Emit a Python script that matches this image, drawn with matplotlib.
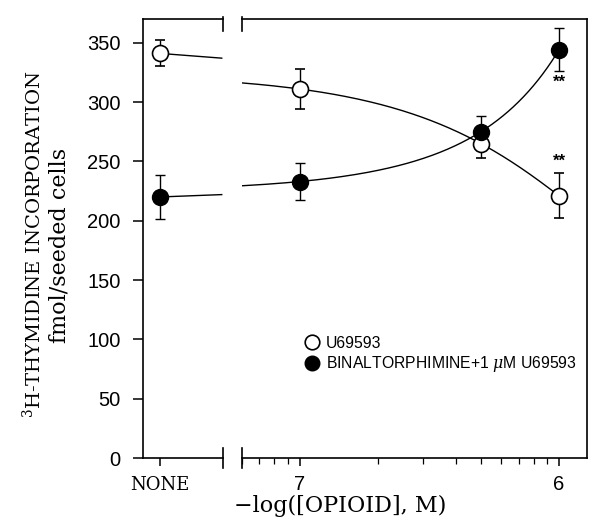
import numpy as np
import matplotlib
matplotlib.use('Agg')
import matplotlib.pyplot as plt
from matplotlib.lines import Line2D
from matplotlib.ticker import FixedLocator, NullFormatter

plt.rcParams['mathtext.fontset'] = 'dejavuserif'

# concentrations (M) for the dose axis, and the "NONE" control
conc = np.array([1e-7, 5e-7, 1e-6])
u69593 = [311, 265, 221]
u69593_err = [16.5, 12, 19]
bnx = [233, 275, 344]
bnx_err = [15.5, 13, 18]

none_u69593, none_u69593_err = 341, 11
none_bnx, none_bnx_err = 220, 18.5
# end of the short fitted segment drawn from the control point
none_u69593_end, none_bnx_end = 337, 222

xmin_conc = 6e-8
minor_conc = [6e-8, 7e-8, 8e-8, 9e-8, 2e-7, 3e-7, 4e-7, 5e-7, 6e-7, 7e-7, 8e-7, 9e-7]

serif = 'DejaVu Serif'
sans = 'Liberation Sans'

W, H = 600, 532
fig = plt.figure(figsize=(W / 100, H / 100), dpi=100)
b, h = (H - 458) / H, 439 / H
ax1 = fig.add_axes([143 / W, b, 80 / W, h])
ax2 = fig.add_axes([242 / W, b, 345 / W, h])

lw = 1.2
ms = 11.5
ebkw = dict(ecolor='black', elinewidth=1.0, capsize=3.5, capthick=1.0, linestyle='none')

# ---- left panel (control) ----
ax1.plot([0, 0.98], [none_u69593, none_u69593_end], color='black', lw=1.0)
ax1.plot([0, 0.98], [none_bnx, none_bnx_end], color='black', lw=1.0)
ax1.errorbar([0], [none_u69593], yerr=[none_u69593_err], marker='o', ms=ms,
             mfc='white', mec='black', mew=1.2, **ebkw)
ax1.errorbar([0], [none_bnx], yerr=[none_bnx_err], marker='o', ms=ms,
             mfc='black', mec='black', **ebkw)
ax1.set_xlim(-0.27, 1.0)
ax1.set_ylim(0, 370)
ax1.set_yticks(np.arange(0, 351, 50))
ax1.set_xticks([0])
ax1.set_xticklabels(['NONE'], fontfamily=serif, fontsize=13)
for lab in ax1.get_yticklabels():
    lab.set_fontfamily(sans)
    lab.set_fontsize(14.5)
ax1.tick_params(axis='y', direction='out', length=7, width=1.1, pad=9)
ax1.tick_params(axis='x', direction='out', length=6, width=1.1, pad=7)
ax1.spines['right'].set_visible(False)

# ---- right panel (dose) ----
x = -np.log10(conc)
c = conc / 1e-7
cf = np.linspace(xmin_conc / 1e-7, c[-1], 200)
for vals in (u69593, bnx):
    p = np.polyfit(c, vals, 2)
    ax2.plot(-np.log10(cf * 1e-7), np.polyval(p, cf), color='black', lw=1.0)

ax2.errorbar(x, u69593, yerr=u69593_err, marker='o', ms=ms,
             mfc='white', mec='black', mew=1.2, **ebkw)
ax2.errorbar(x, bnx, yerr=bnx_err, marker='o', ms=ms,
             mfc='black', mec='black', **ebkw)

# significance marks at 1 uM
ax2.text(x[-1], bnx[-1] - bnx_err[-1] - 3, '**', ha='center', va='top',
         fontsize=12, fontweight='bold', fontfamily=sans)
ax2.text(x[-1], u69593[-1] + u69593_err[-1] + 4, '**', ha='center', va='bottom',
         fontsize=12, fontweight='bold', fontfamily=sans)

ax2.set_xlim(-np.log10(xmin_conc), 5.892)
ax2.set_ylim(0, 370)
ax2.set_yticks([])
ax2.set_xticks([7, 6])
ax2.set_xticklabels(['7', '6'], fontfamily=sans, fontsize=14.5)
ax2.xaxis.set_minor_locator(FixedLocator(-np.log10(minor_conc)))
ax2.xaxis.set_minor_formatter(NullFormatter())
ax2.tick_params(axis='x', which='major', direction='out', length=6, width=1.1, pad=6)
ax2.tick_params(axis='x', which='minor', direction='out', length=4, width=0.9)
ax2.spines['left'].set_visible(False)

for ax in (ax1, ax2):
    for s in ax.spines.values():
        s.set_linewidth(lw)

# axis break marks
px = 1 / 439
for ax, xe in ((ax1, 1.0), (ax2, 0.0)):
    ax.plot([xe, xe], [1 + 2 * px, 1 - 12 * px], transform=ax.transAxes,
            color='black', lw=lw, clip_on=False)
    ax.plot([xe, xe], [10 * px, -10 * px], transform=ax.transAxes,
            color='black', lw=lw, clip_on=False)

# legend
handles = [Line2D([], [], marker='o', ls='none', ms=10.5, mfc='white', mec='black', mew=1.2),
           Line2D([], [], marker='o', ls='none', ms=10.5, mfc='black', mec='black')]
ax2.legend(handles, ['U69593', r'BINALTORPHIMINE+1 $\mu$M U69593'],
           loc='upper left', bbox_to_anchor=(0.18, 0.278), frameon=False,
           prop={'family': sans, 'size': 11.3}, handlelength=1.0,
           handletextpad=0.4, labelspacing=0.2, borderpad=0, borderaxespad=0)

# axis labels
fig.text(33 / W, 1 - 244 / H, r'$^{3}$H-THYMIDINE INCORPORATION', rotation=90,
         ha='center', va='center', fontfamily=serif, fontsize=14)
fig.text(60 / W, 1 - 245 / H, 'fmol/seeded cells', rotation=90,
         ha='center', va='center', fontfamily=serif, fontsize=16)
fig.text(340 / W, 1 - 506 / H, '\u2212log([OPIOID], M)', ha='center', va='center',
         fontfamily=serif, fontsize=16)

fig.savefig('out.png', dpi=100)
